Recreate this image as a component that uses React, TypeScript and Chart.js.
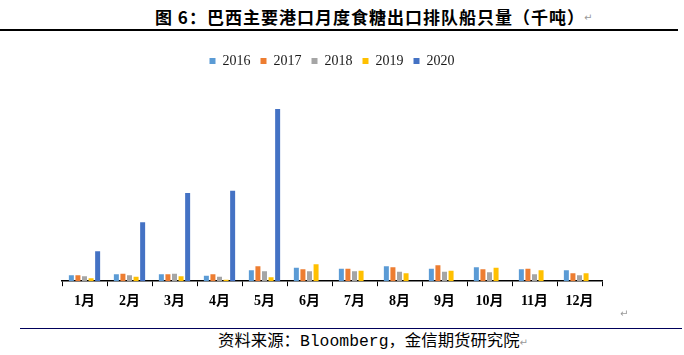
import React, { useEffect, useRef } from "react";
import { Chart, registerables } from "chart.js";

Chart.register(...registerables);

const months = ["1月", "2月", "3月", "4月", "5月", "6月", "7月", "8月", "9月", "10月", "11月", "12月"];
const years = ["2016", "2017", "2018", "2019", "2020"];
const v2016 = [60, 70, 70, 55, 110, 135, 125, 150, 125, 140, 120, 110];
const v2017 = [60, 75, 70, 70, 150, 120, 125, 140, 160, 120, 125, 80];
const v2018 = [50, 60, 75, 45, 100, 100, 100, 95, 95, 90, 70, 60];
const v2019 = [30, 45, 50, 15, 40, 170, 105, 80, 105, 135, 110, 80];
const v2020 = [300, 590, 884, 907, 1724, null, null, null, null, null, null, null];
const seriesColors = ["#5B9BD5", "#ED7D31", "#A5A5A5", "#FFC000", "#4472C4"];
const yMax = 2035;

const title = "图 6：巴西主要港口月度食糖出口排队船只量（千吨）";
const source = "资料来源：Bloomberg，金信期货研究院";

export default function App() {
  const canvasRef = useRef<HTMLCanvasElement | null>(null);

  useEffect(() => {
    const canvas = canvasRef.current;
    if (!canvas) return;
    const values = [v2016, v2017, v2018, v2019, v2020];
    const chart = new Chart(canvas, {
      type: "bar",
      data: {
        labels: months,
        datasets: years.map((y, i) => ({
          label: y,
          data: values[i],
          backgroundColor: seriesColors[i],
          borderWidth: 0,
          barPercentage: 0.76,
          categoryPercentage: 0.73,
        })),
      },
      options: {
        animation: false,
        responsive: false,
        devicePixelRatio: 1,
        layout: { padding: { left: 62, right: 82, top: 4, bottom: 3 } },
        plugins: {
          legend: {
            display: true,
            position: "top",
            labels: {
              boxWidth: 6,
              boxHeight: 6,
              padding: 10,
              color: "#1a1a1a",
              font: { family: "'Liberation Serif', 'Times New Roman', serif", size: 14 },
            },
          },
          tooltip: { enabled: false },
        },
        scales: {
          x: {
            grid: {
              display: true,
              drawOnChartArea: false,
              drawTicks: true,
              tickLength: 5,
              color: "#000",
              lineWidth: 1,
            },
            border: { display: true, color: "#000", width: 1.5 },
            ticks: {
              color: "#000",
              padding: 7,
              font: { family: "'Liberation Serif', 'Noto Sans CJK SC', serif", size: 14, weight: "bold" },
            },
          },
          y: {
            display: false,
            min: 0,
            max: yMax,
          },
        },
      },
    });
    return () => chart.destroy();
  }, []);

  const mark: React.CSSProperties = {
    position: "absolute",
    fontSize: 10,
    color: "#999",
    fontFamily: "'DejaVu Sans', sans-serif",
    lineHeight: "10px",
  };

  return (
    <div style={{ position: "fixed", left: 0, top: 0, width: 684, height: 355, background: "#fff", overflow: "hidden" }}>
      <div
        style={{
          position: "absolute",
          left: 155,
          top: 8,
          fontFamily: "'Noto Sans CJK SC', sans-serif",
          fontWeight: 700,
          fontSize: 17,
          lineHeight: "17px",
          letterSpacing: 1,
          color: "#000",
          whiteSpace: "nowrap",
        }}
      >
        {title}
      </div>
      <div style={{ ...mark, left: 584, top: 13 }}>↵</div>
      <div style={{ position: "absolute", left: 0, top: 29, width: 678, height: 1.5, background: "#000" }} />
      <canvas ref={canvasRef} width={684} height={280} style={{ position: "absolute", left: 0, top: 40 }} />
      <div style={{ ...mark, left: 620, top: 309 }}>↵</div>
      <div style={{ position: "absolute", left: 20, top: 328, width: 662, height: 1, background: "#00005a" }} />
      <div
        style={{
          position: "absolute",
          left: 218,
          top: 334,
          fontFamily: "'Liberation Mono', 'Noto Sans CJK SC', monospace",
          fontSize: 16.4,
          lineHeight: "16px",
          color: "#000",
          whiteSpace: "nowrap",
        }}
      >
        {source}
        <span style={{ fontSize: 10, color: "#999", fontFamily: "'DejaVu Sans', sans-serif" }}>↵</span>
      </div>
    </div>
  );
}
